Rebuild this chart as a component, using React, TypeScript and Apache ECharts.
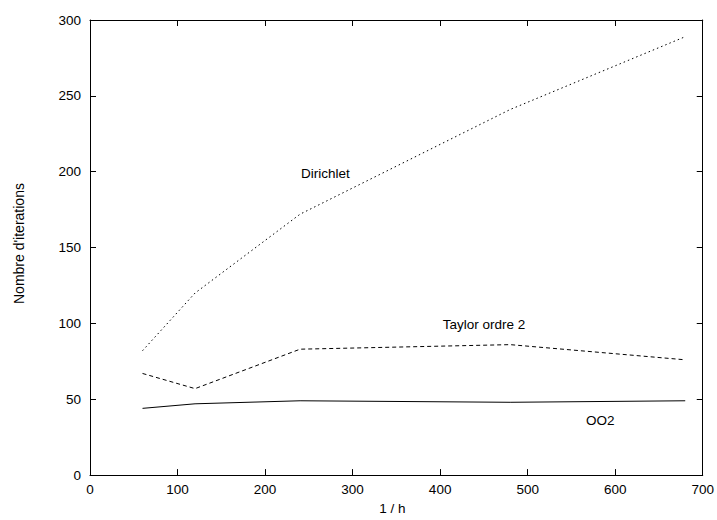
import React, { useEffect, useRef } from "react";
import * as echarts from "echarts";

const xValues = [60, 120, 240, 480, 680];
const dirichlet = [82, 120, 172, 241, 289];
const taylor = [67, 57, 83, 86, 76];
const oo2 = [44, 47, 49, 48, 49];
const labels = [
  { name: "Dirichlet", x: 269, y: 199 },
  { name: "Taylor ordre 2", x: 450, y: 99 },
  { name: "OO2", x: 583, y: 36 },
];

const FONT = "Liberation Sans, Arial, sans-serif";

export default function App() {
  const ref = useRef<HTMLDivElement>(null);
  useEffect(() => {
    if (!ref.current) return;
    const chart = echarts.init(ref.current, undefined, { renderer: "svg" });
    const pair = (ys: number[]) => xValues.map((x, i) => [x, ys[i]]);
    const axisCommon = {
      axisLine: { show: true, onZero: false, lineStyle: { color: "#000", width: 1 } },
      axisTick: { show: true, inside: true, length: 6, lineStyle: { color: "#000" } },
      splitLine: { show: false },
    };
    const mkSeries = (name: string, ys: number[], dash: any) => ({
      name,
      type: "line",
      data: pair(ys),
      symbol: "none",
      lineStyle: { color: "#000", width: 1, type: dash },
    });
    chart.setOption({
      animation: false,
      backgroundColor: "#fff",
      textStyle: { fontFamily: FONT },
      grid: { left: 90, top: 20, right: 12, bottom: 36 },
      xAxis: [
        {
          type: "value",
          min: 0,
          max: 700,
          interval: 100,
          name: "1 / h",
          nameLocation: "middle",
          nameGap: 21,
          nameTextStyle: { fontSize: 13.5, color: "#000", fontFamily: FONT, padding: [0, 8, 0, 0] },
          axisLabel: { fontSize: 13.5, color: "#000", margin: 7, fontFamily: FONT },
          ...axisCommon,
        },
        {
          type: "value",
          position: "top",
          min: 0,
          max: 700,
          interval: 100,
          axisLabel: { show: false },
          ...axisCommon,
        },
      ],
      yAxis: [
        {
          type: "value",
          min: 0,
          max: 300,
          interval: 50,
          name: "Nombre d'iterations",
          nameLocation: "middle",
          nameGap: 64,
          nameTextStyle: { fontSize: 14, color: "#000", fontFamily: FONT, padding: [0, 0, 0, 8] },
          axisLabel: { fontSize: 13.5, color: "#000", margin: 9, fontFamily: FONT },
          ...axisCommon,
        },
        {
          type: "value",
          position: "right",
          min: 0,
          max: 300,
          interval: 50,
          axisLabel: { show: false },
          ...axisCommon,
        },
      ],
      series: [
        mkSeries("Dirichlet", dirichlet, [1.5, 3]),
        mkSeries("Taylor ordre 2", taylor, [4, 3]),
        {
          ...mkSeries("OO2", oo2, "solid"),
          markPoint: {
            symbol: "circle",
            symbolSize: 0,
            data: labels.map((l) => ({
              coord: [l.x, l.y],
              value: l.name,
              label: {
                show: true,
                position: "inside",
                formatter: l.name,
                color: "#000",
                fontSize: 13.5,
                fontFamily: FONT,
              },
            })),
          },
        },
      ],
    });
    return () => chart.dispose();
  }, []);
  return (
    <div
      ref={ref}
      style={{ position: "fixed", left: 0, top: 0, width: 717, height: 520, background: "#fff" }}
    />
  );
}
